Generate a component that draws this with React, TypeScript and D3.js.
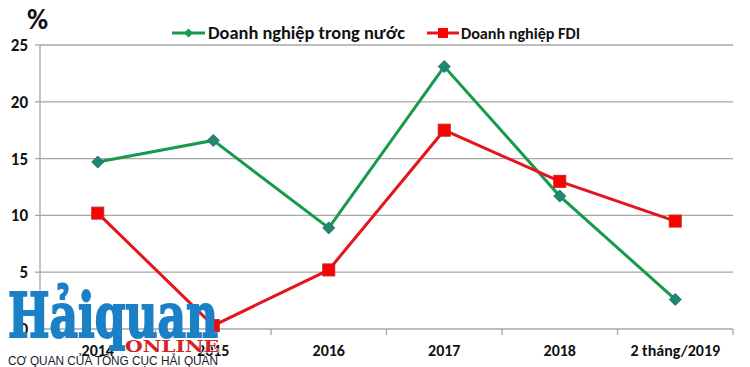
import React from "react";
import * as d3 from "d3";

const categories = ["2014", "2015", "2016", "2017", "2018", "2 tháng/2019"];
const domestic = [14.7, 16.6, 8.9, 23.1, 11.7, 2.6];
const fdi = [10.2, 0.3, 5.2, 17.5, 13.0, 9.5];
const yTicks = [0, 5, 10, 15, 20, 25];
const seriesNames = ["Doanh nghiệp trong nước", "Doanh nghiệp FDI"];

const W = 750, H = 367;
const M = { left: 40, right: 17, top: 45, bottom: 38 };

export default function App() {
  const x = d3.scaleBand<string>().domain(categories).range([M.left, W - M.right]);
  const y = d3.scaleLinear().domain([0, 25]).range([H - M.bottom, M.top]);
  const line = d3.line<number>().x((_, i) => x(categories[i])! + x.bandwidth() / 2).y((d) => y(d));
  const font = "Calibri, Carlito, 'Liberation Sans', Arial, sans-serif";
  const green = "#169b4c";
  const red = "#e3161b";
  const ticksX = [...categories.map((c) => x(c)!), W - M.right];
  return (
    <svg width={W} height={H} style={{ position: "absolute", left: 0, top: 0, background: "#fff" }} fontFamily={font}>
      {yTicks.map((t) => (
        <g key={t}>
          <line x1={M.left} x2={W - M.right} y1={y(t)} y2={y(t)} stroke="#a6a6a6" strokeWidth={1.3} />
          <line x1={M.left - 5} x2={M.left} y1={y(t)} y2={y(t)} stroke="#a6a6a6" strokeWidth={1.3} />
          <text x={28} y={y(t)} dy="0.35em" textAnchor="end" fontSize={17} fontWeight="bold" fill="#111">{t}</text>
        </g>
      ))}
      <line x1={M.left} x2={M.left} y1={y(25)} y2={y(0)} stroke="#a6a6a6" strokeWidth={1.3} />
      {ticksX.map((t, i) => (
        <line key={i} x1={t} x2={t} y1={y(0)} y2={y(0) + 6} stroke="#a6a6a6" strokeWidth={1.3} />
      ))}
      {categories.map((c) => (
        <text key={c} x={x(c)! + x.bandwidth() / 2} y={350} dy="0.35em" textAnchor="middle" fontSize={16} fontWeight="bold" fill="#111">{c}</text>
      ))}
      <text x={27} y={29} fontSize={29} fontWeight="bold" fill="#111">%</text>

      <path d={line(domestic)!} fill="none" stroke={green} strokeWidth={3} />
      <path d={line(fdi)!} fill="none" stroke={red} strokeWidth={3} />
      {domestic.map((v, i) => {
        const cx = x(categories[i])! + x.bandwidth() / 2, cy = y(v);
        return <path key={i} d={`M${cx},${cy - 6}L${cx + 6},${cy}L${cx},${cy + 6}L${cx - 6},${cy}Z`} fill="#1f8a6a" stroke="#2a6c8c" strokeWidth={1} />;
      })}
      {fdi.map((v, i) => {
        const cx = x(categories[i])! + x.bandwidth() / 2, cy = y(v);
        return <rect key={i} x={cx - 6} y={cy - 6} width={12} height={12} fill="#ff0000" stroke="#c0282a" strokeWidth={1} />;
      })}

      {/* legend */}
      <line x1={172} x2={205} y1={33} y2={33} stroke={green} strokeWidth={3} />
      <path d="M188.5,28.5L193,33L188.5,37.5L184,33Z" fill={green} />
      <text x={208} y={33} dy="0.35em" fontSize={17} fontWeight="bold" fill="#111" textLength={197} lengthAdjust="spacingAndGlyphs">{seriesNames[0]}</text>
      <line x1={427} x2={459} y1={33} y2={33} stroke={red} strokeWidth={3} />
      <rect x={438} y={28} width={10} height={10} fill="#ff0000" />
      <text x={461} y={33} dy="0.35em" fontSize={16} fontWeight="bold" fill="#111" textLength={119} lengthAdjust="spacingAndGlyphs">{seriesNames[1]}</text>

      {/* watermark */}
      <text x={8} y={337} fontSize={62} fontWeight="bold" fontFamily="'DejaVu Serif', 'Liberation Serif', serif" fill="#1b80c6" stroke="#1b80c6" strokeWidth={2} textLength={210} lengthAdjust="spacingAndGlyphs">Hảiquan</text>
      <text x={125} y={352} fontSize={16} fontWeight="bold" fontFamily="'DejaVu Serif', serif" fill="#d0242b" stroke="#fff" strokeWidth={0.8} style={{ paintOrder: "stroke" }} textLength={94} lengthAdjust="spacingAndGlyphs">ONLINE</text>
      <text x={8} y={365} fontSize={12} fontFamily="'Liberation Sans', Arial, sans-serif" fill="#1a1a2a" textLength={210} lengthAdjust="spacingAndGlyphs">CƠ QUAN CỦA TỔNG CỤC HẢI QUAN</text>
    </svg>
  );
}
